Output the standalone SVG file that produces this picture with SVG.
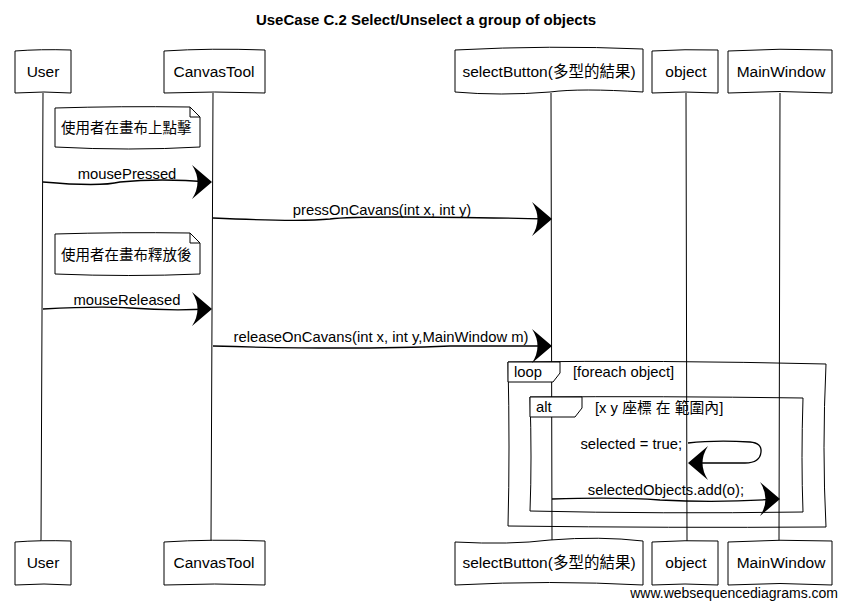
<svg xmlns="http://www.w3.org/2000/svg" width="847" height="608" viewBox="0 0 847 608">
<style>
.t{font-family:"Liberation Sans","Noto Sans CJK TC",Arial,sans-serif;fill:#000}
.p{font-size:15.5px;text-anchor:middle}
.m{font-size:14.8px}
.b{fill:#fff;stroke:#000;stroke-width:1}
.l{fill:none;stroke:#000;stroke-width:1}
.a{fill:none;stroke:#000;stroke-width:1.3}
.h{fill:#000;stroke:none}
</style>
<defs>
<path id="ah" d="M0,0 L-20,-17 Q-9,0 -20,17 Z" class="h"/>
</defs>
<rect width="847" height="608" fill="#fff"/>
<text class="t" x="426" y="25" font-size="15" font-weight="bold" text-anchor="middle">UseCase C.2 Select/Unselect a group of objects</text>

<g id="lifelines">
<path class="l" d="M43,93 L41,541"/>
<path class="l" d="M213,93 L211,541"/>
<path class="l" d="M551,93 L552,541"/>
<path class="l" d="M686,93 L687,541"/>
<path class="l" d="M780,93 L779,541"/>
</g>

<g id="User">
<path class="b" d="M15,51 Q40,49 71,50 L71,93 Q45,91 15,93 Z"/>
<text class="t p" x="43" y="77">User</text>
<path class="b" d="M15,542 Q40,540 71,541 L71,585 Q45,583 15,585 Z"/>
<text class="t p" x="43" y="568">User</text>
</g>
<g id="CanvasTool">
<path class="b" d="M164,51 Q210,48 265,50 L265,93 Q215,91 164,93 Z"/>
<text class="t p" x="214" y="77">CanvasTool</text>
<path class="b" d="M164,542 Q210,539 265,541 L265,585 Q215,583 164,585 Z"/>
<text class="t p" x="214" y="568">CanvasTool</text>
</g>
<g id="selectButton">
<path class="b" d="M455,50 Q550,45 643,49 L643,92 Q580,88 550,92 Q500,96 455,92 Z"/>
<text class="t p" x="549" y="77">selectButton(多型的結果)</text>
<path class="b" d="M455,542 Q510,545 550,540 Q600,536 643,541 L643,585 Q550,580 455,585 Z"/>
<text class="t p" x="549" y="568">selectButton(多型的結果)</text>
</g>
<g id="object">
<path class="b" d="M652,51 Q685,49 718,50 L718,93 Q685,91 652,93 Z"/>
<text class="t p" x="686" y="77">object</text>
<path class="b" d="M652,542 Q685,540 718,541 L718,585 Q685,583 652,585 Z"/>
<text class="t p" x="686" y="568">object</text>
</g>
<g id="MainWindow">
<path class="b" d="M728,51 Q780,48 832,50 L832,93 Q780,90 728,93 Z"/>
<text class="t p" x="781" y="77">MainWindow</text>
<path class="b" d="M728,542 Q780,539 832,541 L832,585 Q780,582 728,585 Z"/>
<text class="t p" x="781" y="568">MainWindow</text>
</g>

<g id="note1">
<path class="b" d="M55,108 Q120,106 190,107 L200,117 L200,147 Q130,151 55,147 Z"/>
<path class="l" d="M190,107 L190,117 L200,117"/>
<text class="t" x="61" y="133" font-size="14.5">使用者在畫布上點擊</text>
</g>
<g id="note2">
<path class="b" d="M55,234 Q120,232 190,233 L200,243 L200,274 Q130,277 55,274 Z"/>
<path class="l" d="M190,233 L190,243 L200,243"/>
<text class="t" x="61" y="260" font-size="14.5">使用者在畫布釋放後</text>
</g>

<g id="loop">
<path class="l" d="M508,362 Q660,360 826,364 Q822,450 826,527 Q670,528 508,526 Q510,450 508,362 Z"/>
<path class="b" d="M508,362 L560,362 L560,373 L553,382 L508,382 Z"/>
<text class="t m" x="514" y="377">loop</text>
<text class="t m" x="573" y="377">[foreach object]</text>
</g>
<g id="alt">
<path class="l" d="M530,397 Q660,396 803,398 Q801,460 803,512 Q660,514 530,511 Q532,460 530,397 Z"/>
<path class="b" d="M530,397 L582,397 L582,408 L575,417 L530,417 Z"/>
<text class="t m" x="536" y="412">alt</text>
<text class="t m" x="595" y="413">[x y 座標 在 範圍內]</text>
</g>

<g id="connectors">
<path class="a" d="M43,182 Q100,187 120,182 Q160,178 210,182"/>
<use href="#ah" transform="translate(212,182)"/>
<text class="t m" x="127" y="179" text-anchor="middle">mousePressed</text>

<path class="a" d="M213,218 Q300,222 330,219 Q360,215 550,219"/>
<use href="#ah" transform="translate(552,219)"/>
<text class="t m" x="382" y="215" text-anchor="middle">pressOnCavans(int x, int y)</text>

<path class="a" d="M43,309 Q100,306 130,308 Q170,311 210,309"/>
<use href="#ah" transform="translate(212,309)"/>
<text class="t m" x="127" y="305" text-anchor="middle">mouseReleased</text>

<path class="a" d="M213,346 Q350,350 450,346 L550,346"/>
<use href="#ah" transform="translate(552,346)"/>
<text class="t m" x="381" y="342" text-anchor="middle">releaseOnCavans(int x, int y,MainWindow m)</text>

<path class="a" d="M688,443 Q715,440 750,442 Q762,443 761,452 Q760,463 745,463 L690,463"/>
<use href="#ah" transform="translate(688,463) rotate(180)"/>
<text class="t m" x="682" y="449" text-anchor="end">selected = true;</text>

<path class="a" d="M552,499 Q620,497 660,500 Q720,503 778,499"/>
<use href="#ah" transform="translate(780,499)"/>
<text class="t m" x="666" y="495" text-anchor="middle">selectedObjects.add(o);</text>
</g>

<text class="t" x="838" y="598" font-size="14" text-anchor="end">www.websequencediagrams.com</text>
</svg>
